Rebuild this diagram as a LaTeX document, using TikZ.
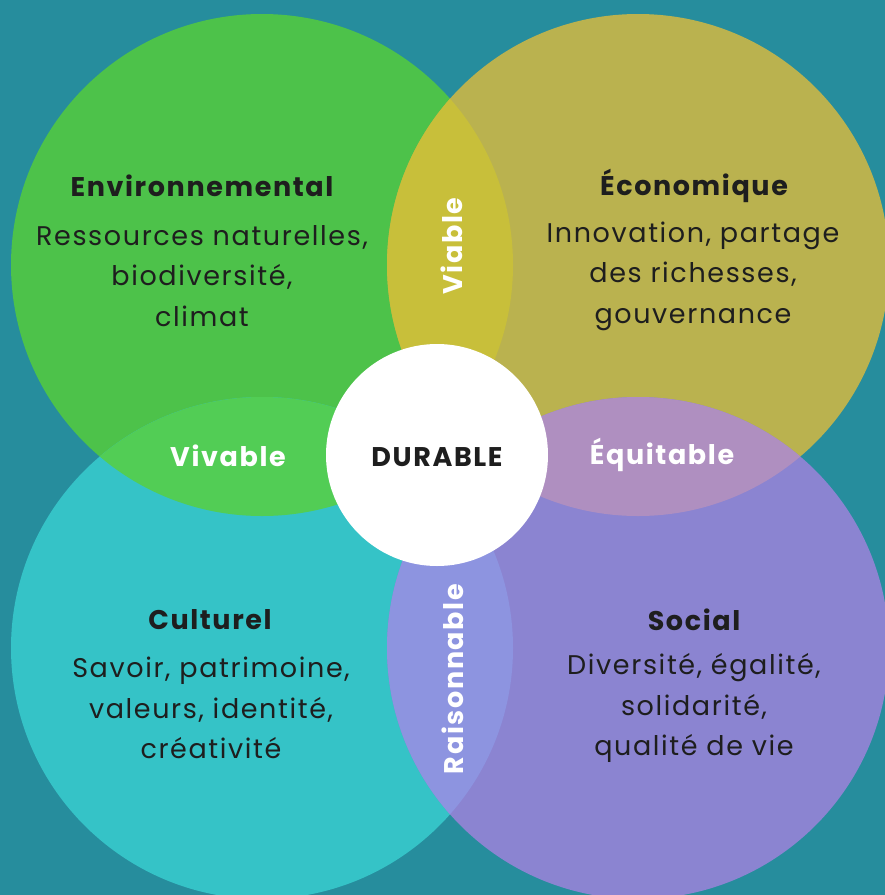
\documentclass[tikz,border=0pt]{standalone}
\usepackage{fontspec}
\setmainfont{Poppins}[LetterSpace=6]
\definecolor{bg}{HTML}{268D9D}
\definecolor{cgreen}{HTML}{4DC24A}
\definecolor{cyellow}{HTML}{BAB24F}
\definecolor{ccyan}{HTML}{35C3C7}
\definecolor{cpurple}{HTML}{8B84D1}
\definecolor{lgy}{HTML}{C8BF3A}
\definecolor{lgc}{HTML}{52CD55}
\definecolor{lyp}{HTML}{AF8FC0}
\definecolor{lcp}{HTML}{8D94E0}
\definecolor{ink}{HTML}{1E1E1E}
\begin{document}
\begin{tikzpicture}[x=1pt,y=-1pt,
  title/.style={font=\fontsize{27}{32}\selectfont\bfseries, text=ink, inner sep=0pt},
  body/.style={font=\fontsize{27}{40.5}\selectfont, text=ink, align=center, inner sep=0pt},
  lens/.style={font=\fontsize{27}{32}\selectfont\bfseries, text=white, inner sep=0pt}]
\useasboundingbox (0,0) rectangle (885,895);
\clip (0,0) rectangle (885,895);
\fill[bg] (0,0) rectangle (885,895);
% circles
\fill[cgreen]  (262,265) circle (251);
\fill[cyellow] (638,265) circle (251);
\fill[ccyan]   (262,648) circle (251);
\fill[cpurple] (638,648) circle (251);
% lenses
\begin{scope}\clip (262,265) circle (251); \fill[lgy] (638,265) circle (251);\end{scope}
\begin{scope}\clip (262,265) circle (251); \fill[lgc] (262,648) circle (251);\end{scope}
\begin{scope}\clip (638,265) circle (251); \fill[lyp] (638,648) circle (251);\end{scope}
\begin{scope}\clip (262,648) circle (251); \fill[lcp] (638,648) circle (251);\end{scope}
% centre
\node[circle, fill=white, minimum size=222pt, inner sep=0pt] (centre) at (437,455) {};
\node[lens, text=ink] (durable) at (437,457) {DURABLE};
% lens labels
\node[lens] (vivable) at (228,456) {Vivable};
\node[lens] (equitable) at (662,455) {Équitable};
\node[lens, rotate=90] (viable) at (452,246) {Viable};
\node[lens, rotate=90] (raisonnable) at (453,679) {Raisonnable};
% titles
\node[title] (env) at (202,186) {Environnemental};
\node[title] (eco) at (694,186) {Économique};
\node[title] (cul) at (210,620) {Culturel};
\node[title] (soc) at (694,620) {Social};
% bodies
\node[body] (envb) at (202,276) {Ressources naturelles,\\biodiversité,\\climat};
\node[body] (ecob) at (693,276) {Innovation, partage\\des richesses,\\gouvernance};
\node[body] (culb) at (211,708) {Savoir, patrimoine,\\valeurs, identité,\\créativité};
\node[body] (socb) at (694,708) {Diversité, égalité,\\solidarité,\\qualité de vie};
\end{tikzpicture}
\end{document}
